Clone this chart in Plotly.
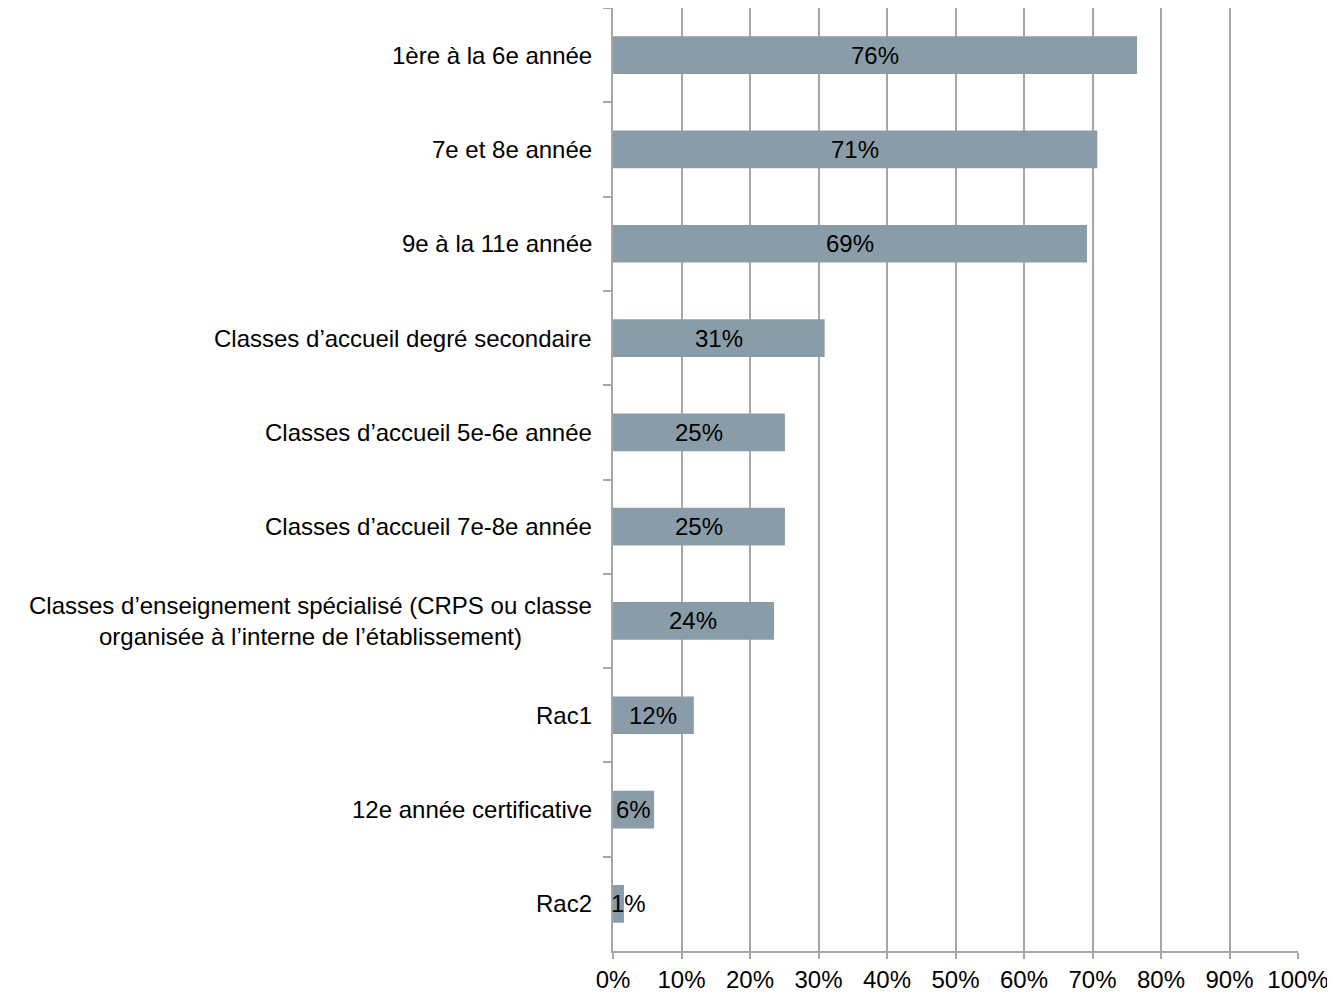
import plotly.graph_objects as go

categories = [
    "1ère à la 6e année",
    "7e et 8e année",
    "9e à la 11e année",
    "Classes d’accueil degré secondaire",
    "Classes d’accueil 5e-6e année",
    "Classes d’accueil 7e-8e année",
    "Classes d’enseignement spécialisé (CRPS ou classe<br>organisée à l’interne de l’établissement)",
    "Rac1",
    "12e année certificative",
    "Rac2",
]
values = [76.5, 70.7, 69.2, 30.9, 25.1, 25.1, 23.5, 11.8, 6.0, 1.6]
value_labels = ["76%", "71%", "69%", "31%", "25%", "25%", "24%", "12%", "6%", "1%"]
x_ticks = [0, 10, 20, 30, 40, 50, 60, 70, 80, 90, 100]
x_tick_labels = [f"{t}%" for t in x_ticks]

FONT = "Liberation Sans, Arial, sans-serif"
FS = 24
BAR = "#8a9ca7"
GRID = "#a6a6a6"

fig = go.Figure()
fig.add_trace(go.Bar(
    x=values, y=categories, orientation="h",
    marker=dict(color=BAR, line=dict(width=0)),
    width=0.4, hoverinfo="skip",
))

annotations = []
for cat, v, lab in zip(categories, values, value_labels):
    if v < 4:
        annotations.append(dict(x=0, y=cat, xref="x", yref="y", text=lab, showarrow=False,
                                xanchor="left", xshift=-4,
                                font=dict(family=FONT, size=FS, color="#000")))
    else:
        annotations.append(dict(x=v / 2, y=cat, xref="x", yref="y", text=lab, showarrow=False,
                                xanchor="center",
                                font=dict(family=FONT, size=FS, color="#000")))
    annotations.append(dict(x=0, y=cat, xref="paper", yref="y", text=cat, showarrow=False,
                            xanchor="right", align="center", xshift=-19,
                            font=dict(family=FONT, size=FS, color="#000")))

fig.update_layout(
    width=1327, height=986,
    margin=dict(l=605, r=37, t=0, b=43),
    plot_bgcolor="white", paper_bgcolor="white",
    showlegend=False,
    font=dict(family=FONT, size=FS, color="#000"),
    annotations=annotations,
    xaxis=dict(
        range=[0, 100], tickvals=x_ticks, ticktext=x_tick_labels,
        showgrid=True, gridcolor=GRID, gridwidth=1.5,
        showline=True, linecolor=GRID, linewidth=1.5,
        ticks="outside", ticklen=6, tickcolor=GRID, tickwidth=1.5,
        zeroline=False, fixedrange=True,
        tickfont=dict(family=FONT, size=FS, color="#000"),
    ),
    yaxis=dict(
        categoryorder="array", categoryarray=categories, autorange="reversed",
        showticklabels=False, showgrid=False,
        showline=True, linecolor=GRID, linewidth=1.5,
        ticks="outside", tickson="boundaries", ticklen=8, tickcolor=GRID, tickwidth=1.5,
        zeroline=False, fixedrange=True,
    ),
)

fig.write_html("out.html")
